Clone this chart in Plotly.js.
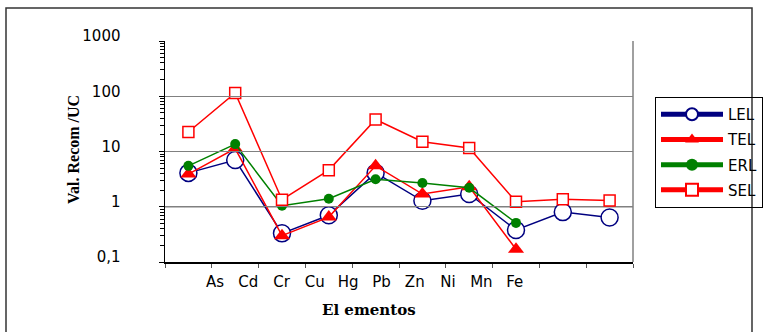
<!DOCTYPE html>
<html>
<head>
<meta charset="utf-8">
<script src="https://cdn.plot.ly/plotly-3.0.1.min.js"></script>
<style>html,body{margin:0;padding:0;background:#fff;}#chart{width:763px;height:332px;}</style>
</head>
<body>
<div id="chart"></div>
<script>
// ---- data ----
const categories = ['As', 'Cd', 'Cr', 'Cu', 'Hg', 'Pb', 'Zn', 'Ni', 'Mn', 'Fe'];
const seriesNames = ['LEL', 'TEL', 'ERL', 'SEL'];
const LEL = [4.1, 7.0, 0.33, 0.70, 4.1, 1.28, 1.7, 0.38, 0.80, 0.64];
const TEL = [3.9, 11.3, 0.30, 0.65, 5.5, 1.7, 2.3, 0.17, null, null];
const ERL = [5.5, 13.6, 1.04, 1.4, 3.15, 2.7, 2.2, 0.51, null, null];
const SEL = [22.5, 115, 1.34, 4.6, 38, 15, 11.6, 1.23, 1.37, 1.3];
const yTickVals = [0.1, 1, 10, 100, 1000];
const yTickText = ['0,1', '1', '10', '100', '1000'];
const yTitle = 'Val. Recom /UC';
const xTitle = 'El ementos';

// ---- layout geometry (pixels) ----
const W = 763, H = 332;
const M = {l: 165, r: 130, t: 41, b: 70, autoexpand: false};
const PW = W - M.l - M.r, PH = H - M.t - M.b;
const px = x => (x - M.l) / PW;        // pixel -> paper x
const py = y => (H - M.b - y) / PH;    // pixel -> paper y

const sans = 'DejaVu Sans, Arial, sans-serif';

function trace(name, y, color, marker, lineColor) {
  return {
    type: 'scatter', mode: 'lines+markers', name: name,
    x: categories, y: y, legendgroup: name,
    line: {color: lineColor || color, width: 1.5},
    marker: marker, connectgaps: false, cliponaxis: false
  };
}

const data = [
  trace(seriesNames[0], LEL, '#000080', {symbol: 'circle', size: 17, color: '#ffffff', line: {color: '#000080', width: 1.5}}),
  trace(seriesNames[1], TEL, '#ff0000', {symbol: 'triangle-up', size: 14, color: '#ff0000', line: {width: 0}}),
  trace(seriesNames[2], ERL, '#008000', {symbol: 'circle', size: 10, color: '#008000', line: {width: 0}}),
  trace(seriesNames[3], SEL, '#ff0000', {symbol: 'square', size: 11, color: '#ffffff', line: {color: '#ff0000', width: 1.5}}),
  // carrier for the element label axis
  {type: 'scatter', x: [], y: [], xaxis: 'x2', yaxis: 'y', showlegend: false, hoverinfo: 'skip'}
];

const layout = {
  width: W, height: H,
  margin: M,
  paper_bgcolor: '#ffffff', plot_bgcolor: 'rgba(0,0,0,0)',
  showlegend: true,
  font: {family: sans, size: 15, color: '#000'},
  xaxis: {
    type: 'category', categoryorder: 'array', categoryarray: categories,
    range: [-0.5, categories.length - 0.5],
    showticklabels: false, tickson: 'boundaries',
    ticks: 'outside', ticklen: 4, tickcolor: '#555', tickwidth: 1,
    showline: true, linecolor: '#000', linewidth: 1.5,
    showgrid: false, zeroline: false, fixedrange: true
  },
  xaxis2: {
    anchor: 'free', position: 0, side: 'bottom',
    domain: [px(198.3), px(531.3)],
    range: [-0.5, categories.length - 0.5],
    tickmode: 'array', tickvals: categories.map((c, i) => i), ticktext: categories,
    ticks: '', showline: false, showgrid: false, zeroline: false,
    tickfont: {family: sans, size: 15, color: '#000'},
    ticklabelstandoff: 9
  },
  yaxis: {
    type: 'log', range: [-1, 3],
    tickmode: 'array', tickvals: yTickVals, ticktext: yTickText,
    ticks: 'outside', ticklen: 5, tickcolor: '#000',
    minor: {ticks: 'outside', ticklen: 4, dtick: 'D1', tickcolor: '#000', showgrid: false},
    showline: true, linecolor: '#000', linewidth: 1.5,
    showgrid: true, gridcolor: '#808080', gridwidth: 1.2,
    zeroline: false,
    tickfont: {family: sans, size: 15, color: '#000'},
    ticklabelstandoff: 35, ticklabelshift: -5,
    fixedrange: true
  },
  yaxis2: {
    type: 'log', range: [-1, 3], overlaying: 'y', side: 'left', anchor: 'x',
    tickmode: 'array', tickvals: yTickVals, showticklabels: false,
    ticks: 'inside', ticklen: 5, tickcolor: '#000',
    minor: {ticks: 'inside', ticklen: 4, dtick: 'D1', tickcolor: '#000', showgrid: false},
    showline: false, showgrid: false, zeroline: false
  },
  legend: {
    x: px(655), y: py(97), xanchor: 'left', yanchor: 'top',
    bgcolor: 'rgba(0,0,0,0)', bordercolor: '#000', borderwidth: 1,
    font: {family: sans, size: 15, color: '#000'},
    itemsizing: 'constant', itemwidth: 62, tracegroupgap: 2.7,
    itemclick: false, itemdoubleclick: false
  },
  shapes: [
    // black reference line at 10
    {type: 'line', xref: 'paper', yref: 'y', x0: 0, x1: 1, y0: 1, y1: 1, line: {color: '#000', width: 1.2}, layer: 'below'},
    // right frame of plot area
    {type: 'line', xref: 'paper', yref: 'paper', x0: 1, x1: 1, y0: 0, y1: 1, line: {color: '#808080', width: 1.5}},
    // outer chart border
    {type: 'rect', xref: 'paper', yref: 'paper', x0: px(6), x1: px(752), y0: py(345), y1: py(8),
     line: {color: '#333', width: 1.5}, fillcolor: 'rgba(0,0,0,0)'}
  ],
  annotations: [
    {text: '<b>' + yTitle + '</b>', xref: 'paper', yref: 'paper', x: px(73), y: py(150),
     xanchor: 'center', yanchor: 'middle', textangle: -90, showarrow: false,
     font: {family: 'Liberation Serif, Times New Roman, serif', size: 16, color: '#000'}},
    {text: '<b>' + xTitle + '</b>', xref: 'paper', yref: 'paper', x: px(369), y: py(310),
     xanchor: 'center', yanchor: 'middle', showarrow: false,
     font: {family: 'DejaVu Serif, serif', size: 15, color: '#000'}}
  ]
};

Plotly.newPlot('chart', data, layout, {displayModeBar: false, staticPlot: true});
</script>
</body>
</html>
